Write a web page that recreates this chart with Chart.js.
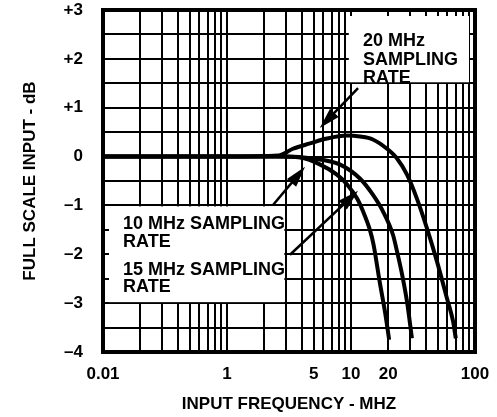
<!DOCTYPE html>
<html>
<head>
<meta charset="utf-8">
<script src="https://cdn.jsdelivr.net/npm/chart.js@4.4.1/dist/chart.umd.min.js"></script>
<style>
  html, body { margin: 0; padding: 0; background: #fff; }
</style>
</head>
<body>
<canvas id="grafico" width="497" height="417"></canvas>
<script>
// curvas (MHz, dB)
const freq10 = [0.1, 1, 2.5, 3.9, 5.6, 7.7, 9.3, 11.2, 12.5, 14.2, 15.2, 17, 19, 20.3];
const ganho10 = [0, 0, 0, -0.02, -0.16, -0.37, -0.57, -0.86, -1.12, -1.5, -1.8, -2.55, -3.25, -3.75];

const freq15 = [0.1, 1, 3, 4.9, 8.1, 11.8, 15, 18.1, 21.8, 23.5, 26, 28.3, 31];
const ganho15 = [0, 0, 0, -0.04, -0.16, -0.45, -0.78, -1.12, -1.6, -1.94, -2.45, -2.97, -3.72];

const freq20 = [0.1, 1, 2.6, 3.4, 4.67, 6.4, 9.3, 11.8, 15, 19.5, 23.5, 28.3, 34, 41, 49.4, 59.4, 66.5, 70];
const ganho20 = [0, 0, 0.02, 0.16, 0.27, 0.37, 0.43, 0.41, 0.35, 0.16, -0.04, -0.37, -0.86, -1.47, -2.15, -2.9, -3.37, -3.72];

// rotulos do eixo x como impressos na figura
const ticksX = [0.1, 1, 5, 10, 20, 100];
const rotulosX = ['0.01', '1', '5', '10', '20', '100'];

const fonte = (t) => ({ family: '"Liberation Sans", Arial, sans-serif', size: t, weight: 'bold' });

// linhas verticais da grade: 1..9 em cada decada
const linhasX = [];
[0.1, 1, 10].forEach(d => { for (let i = 1; i < 10; i++) linhasX.push(+(d * i).toPrecision(3)); });
linhasX.push(100);

function rotuloX(v) {
  const i = ticksX.findIndex(t => Math.abs(t - v) / t < 1e-6);
  return i >= 0 ? rotulosX[i] : '';
}

function rotuloY(v) {
  if (!Number.isInteger(v)) return '';
  if (v > 0) return '+' + v;
  if (v < 0) return '\u2013' + Math.abs(v);
  return '0';
}

function pontos(xs, ys) {
  return xs.map((x, i) => ({ x: x, y: ys[i] }));
}

function seta(ctx, x0, y0, x1, y1) {
  const ang = Math.atan2(y1 - y0, x1 - x0);
  const c = Math.cos(ang), s = Math.sin(ang);
  const len = 21, w = 6;
  ctx.beginPath();
  ctx.moveTo(x0, y0);
  ctx.lineTo(x1 - len * 0.7 * c, y1 - len * 0.7 * s);
  ctx.lineWidth = 2.5;
  ctx.stroke();
  ctx.beginPath();
  ctx.moveTo(x1, y1);
  ctx.lineTo(x1 - len * c + w * s, y1 - len * s - w * c);
  ctx.lineTo(x1 - len * c - w * s, y1 - len * s + w * c);
  ctx.closePath();
  ctx.fill();
}

const notas = {
  id: 'notas',
  beforeDatasetsDraw(chart) {
    const { ctx, chartArea: a, scales: { x, y } } = chart;
    ctx.save();
    ctx.fillStyle = '#fff';
    // caixa do texto 20 MHz
    const l = x.getPixelForValue(9.6), b = y.getPixelForValue(1.5);
    ctx.fillRect(l, a.top + 6, a.right - 6 - l, b - 1 - (a.top + 6));
    // caixa do texto 10 / 15 MHz
    const r = x.getPixelForValue(2.9), t = y.getPixelForValue(-1), bb = y.getPixelForValue(-3);
    ctx.fillRect(a.left + 6, t + 1, r - a.left - 6, bb - t - 2);
    ctx.restore();
  },
  afterDraw(chart) {
    const { ctx, chartArea: a, scales: { x, y } } = chart;
    const px = v => x.getPixelForValue(v), py = v => y.getPixelForValue(v);
    ctx.save();
    ctx.fillStyle = '#000';
    ctx.strokeStyle = '#000';
    ctx.font = 'bold 18px "Liberation Sans", Arial, sans-serif';
    ctx.textBaseline = 'alphabetic';
    ctx.textAlign = 'left';
    ctx.fillText('20 MHz', px(12.5), py(2.27));
    ctx.fillText('SAMPLING', px(12.5), py(1.88));
    ctx.fillText('RATE', px(12.5), py(1.5));
    ctx.fillText('10 MHz SAMPLING', px(0.145), py(-1.48));
    ctx.fillText('RATE', px(0.145), py(-1.85));
    ctx.fillText('15 MHz SAMPLING', px(0.145), py(-2.42));
    ctx.fillText('RATE', px(0.145), py(-2.77));

    seta(ctx, px(11.4), py(1.4), px(5.6), py(0.585));
    seta(ctx, px(2.35), py(-0.99), px(4.26), py(-0.21));
    seta(ctx, px(3.22), py(-2.01), px(11.4), py(-0.7));

    // moldura
    ctx.lineWidth = 4;
    ctx.strokeRect(a.left, a.top, a.right - a.left, a.bottom - a.top);
    ctx.restore();
  }
};

const estiloLinha = {
  borderColor: '#000',
  borderWidth: 4,
  pointRadius: 0,
  fill: false,
  cubicInterpolationMode: 'monotone'
};

const ctx = document.getElementById('grafico').getContext('2d');
const chart = new Chart(ctx, {
  type: 'line',
  data: {
    datasets: [
      { label: '10 MHz SAMPLING RATE', data: pontos(freq10, ganho10), ...estiloLinha },
      { label: '15 MHz SAMPLING RATE', data: pontos(freq15, ganho15), ...estiloLinha },
      { label: '20 MHz SAMPLING RATE', data: pontos(freq20, ganho20), ...estiloLinha }
    ]
  },
  options: {
    responsive: false,
    animation: false,
    layout: { padding: { top: 10, right: 22, left: 0, bottom: 0 } },
    plugins: {
      legend: { display: false },
      tooltip: { enabled: false }
    },
    scales: {
      x: {
        type: 'logarithmic',
        min: 0.1,
        max: 100,
        afterBuildTicks: s => { s.ticks = linhasX.map(v => ({ value: v })); },
        afterFit: s => { s.height = 65; s.paddingLeft = 0; s.paddingRight = 0; },
        grid: { color: '#000', lineWidth: 2, drawTicks: false },
        border: { display: false },
        ticks: {
          autoSkip: false,
          maxRotation: 0,
          padding: 12,
          color: '#000',
          font: fonte(17),
          callback: v => rotuloX(v)
        },
        title: {
          display: true,
          text: 'INPUT FREQUENCY - MHZ',
          color: '#000',
          font: fonte(17),
          padding: { top: 0, bottom: 2 }
        }
      },
      y: {
        min: -4,
        max: 3,
        afterFit: s => { s.width = 103; s.paddingTop = 10; s.paddingBottom = 10; },
        grid: { color: '#000', lineWidth: 2, drawTicks: false },
        border: { display: false },
        ticks: {
          stepSize: 0.5,
          autoSkip: false,
          padding: 20,
          color: '#000',
          font: fonte(17),
          callback: v => rotuloY(v)
        },
        title: {
          display: true,
          text: 'FULL SCALE INPUT - dB',
          color: '#000',
          font: fonte(17),
          padding: { top: 20, bottom: 0 }
        }
      }
    }
  },
  plugins: [notas]
});
</script>
</body>
</html>
